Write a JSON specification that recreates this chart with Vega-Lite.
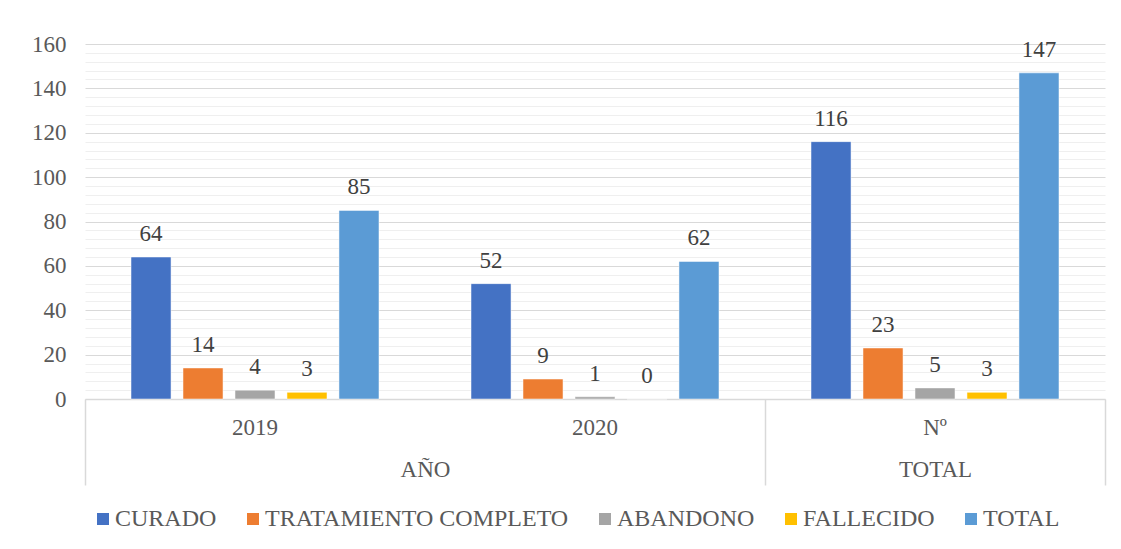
{
  "$schema": "https://vega.github.io/schema/vega-lite/v6.json",
  "width": 1020,
  "height": 355,
  "autosize": {"type": "none"},
  "padding": {"left": 85, "top": 44, "right": 16, "bottom": 150},
  "background": "white",
  "config": {
    "font": "Liberation Serif, serif",
    "view": {"stroke": null},
    "axis": {"labelFont": "Liberation Serif, serif", "labelFontSize": 23, "labelColor": "#595959"},
    "legend": {"labelFont": "Liberation Serif, serif"},
    "text": {"font": "Liberation Serif, serif"}
  },
  "datasets": {
    "barras": [
      {"cat": "2019", "serie": "CURADO", "valor": 64},
      {"cat": "2019", "serie": "TRATAMIENTO COMPLETO", "valor": 14},
      {"cat": "2019", "serie": "ABANDONO", "valor": 4},
      {"cat": "2019", "serie": "FALLECIDO", "valor": 3},
      {"cat": "2019", "serie": "TOTAL", "valor": 85},
      {"cat": "2020", "serie": "CURADO", "valor": 52},
      {"cat": "2020", "serie": "TRATAMIENTO COMPLETO", "valor": 9},
      {"cat": "2020", "serie": "ABANDONO", "valor": 1},
      {"cat": "2020", "serie": "FALLECIDO", "valor": 0},
      {"cat": "2020", "serie": "TOTAL", "valor": 62},
      {"cat": "Nº", "serie": "CURADO", "valor": 116},
      {"cat": "Nº", "serie": "TRATAMIENTO COMPLETO", "valor": 23},
      {"cat": "Nº", "serie": "ABANDONO", "valor": 5},
      {"cat": "Nº", "serie": "FALLECIDO", "valor": 3},
      {"cat": "Nº", "serie": "TOTAL", "valor": 147}
    ],
    "grupos": [
      {"grupo": "AÑO", "ini": 0, "fin": 2},
      {"grupo": "TOTAL", "ini": 2, "fin": 3}
    ]
  },
  "layer": [
    {
      "data": {"name": "barras"},
      "resolve": {"axis": {"y": "independent"}},
      "layer": [
        {
          "mark": {"type": "bar", "stroke": "white", "strokeWidth": 0.5},
          "encoding": {
            "x": {
              "field": "cat", "type": "nominal", "sort": ["2019", "2020", "Nº"],
              "scale": {"domain": ["2019", "2020", "Nº"], "paddingInner": 0, "paddingOuter": 0},
              "axis": {
                "title": null, "orient": "bottom", "labelAngle": 0, "ticks": false, "tickSize": 0,
                "labelPadding": 17, "domain": true, "domainColor": "#d9d9d9", "domainWidth": 1.5,
                "grid": false
              }
            },
            "xOffset": {
              "field": "serie", "type": "nominal",
              "scale": {"domain": ["CURADO", "TRATAMIENTO COMPLETO", "ABANDONO", "FALLECIDO", "TOTAL"], "paddingInner": 0.23, "paddingOuter": 0.885}
            },
            "y": {
              "field": "valor", "type": "quantitative",
              "scale": {"domain": [0, 160], "nice": false},
              "axis": {
                "title": null, "values": [0, 20, 40, 60, 80, 100, 120, 140, 160],
                "ticks": false, "tickSize": 0, "domain": false, "labelPadding": 19,
                "grid": true, "gridColor": "#d9d9d9", "gridWidth": 1
              }
            },
            "color": {
              "field": "serie", "type": "nominal",
              "scale": {
                "domain": ["CURADO", "TRATAMIENTO COMPLETO", "ABANDONO", "FALLECIDO", "TOTAL"],
                "range": ["#4472C4", "#ED7D31", "#A5A5A5", "#FFC000", "#5B9BD5"]
              },
              "legend": {
                "title": null, "orient": "none", "direction": "horizontal",
                "legendX": 6, "legendY": 463,
                "symbolType": "square", "symbolSize": 144, "symbolStrokeWidth": 0,
                "labelFont": "Liberation Serif, serif", "labelFontSize": 24, "labelColor": "#595959",
                "labelOffset": 0, "columnPadding": 24, "labelLimit": 500
              }
            }
          }
        },
        {
          "mark": {"type": "text", "baseline": "alphabetic", "dy": -16, "fontSize": 23, "color": "#404040", "font": "Liberation Serif, serif"},
          "encoding": {
            "x": {"field": "cat", "type": "nominal", "sort": ["2019", "2020", "Nº"]},
            "xOffset": {"field": "serie", "type": "nominal"},
            "y": {
              "field": "valor", "type": "quantitative",
              "axis": {
                "orient": "right", "title": null, "labels": false, "ticks": false, "domain": false,
                "grid": true, "gridColor": "#efefef", "gridWidth": 1.2,
                "values": [4, 8, 12, 16, 24, 28, 32, 36, 44, 48, 52, 56, 64, 68, 72, 76, 84, 88, 92, 96, 104, 108, 112, 116, 124, 128, 132, 136, 144, 148, 152, 156]
              }
            },
            "text": {"field": "valor", "type": "quantitative"}
          }
        }
      ]
    },
    {
      "data": {"name": "grupos"},
      "mark": {"type": "rect", "opacity": 0},
      "encoding": {
        "x": {
          "field": "ini", "type": "quantitative",
          "scale": {"domain": [0, 3], "nice": false, "zero": false},
          "axis": {
            "title": null, "orient": "bottom", "values": [0, 1, 2, 2.5, 3],
            "labelExpr": "datum.value == 1 ? 'AÑO' : datum.value == 2.5 ? 'TOTAL' : ''",
            "tickSize": 86, "tickWidth": 1.5, "tickColor": "#d9d9d9",
            "tickOpacity": {"condition": {"test": "datum.value == 1 || datum.value == 2.5", "value": 0}, "value": 1},
            "labelPadding": -27, "domain": false, "grid": false, "labelFlush": false, "labelOverlap": false
          }
        },
        "x2": {"field": "fin"}
      }
    }
  ],
  "resolve": {"scale": {"x": "independent"}}
}
